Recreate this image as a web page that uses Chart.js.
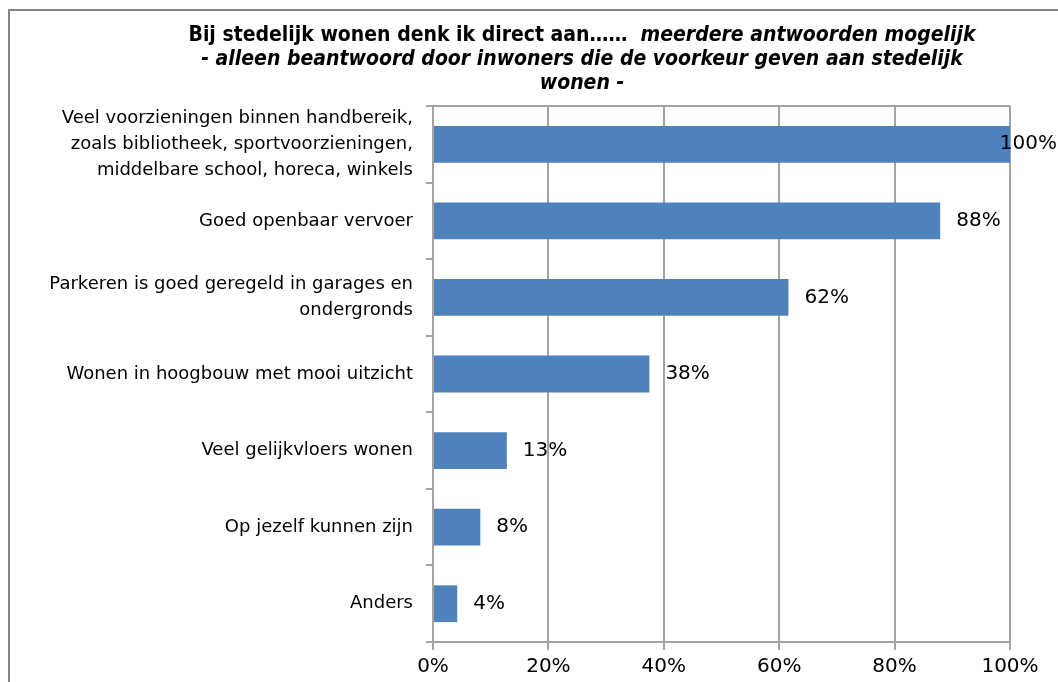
<!DOCTYPE html>
<html>
<head>
<meta charset="utf-8">
<script src="https://cdn.jsdelivr.net/npm/chart.js@4"></script>
<style>
  html, body { margin: 0; padding: 0; background: #fff; overflow: hidden; }
  #wrap { width: 1058px; height: 682px; position: relative; }
</style>
</head>
<body>
<div id="wrap"><canvas id="chart" width="1058" height="682"></canvas></div>
<script>
const categories = [
  ["Veel voorzieningen binnen handbereik,", "zoals bibliotheek, sportvoorzieningen,", "middelbare school, horeca, winkels"],
  "Goed openbaar vervoer",
  ["Parkeren is goed geregeld in garages en", "ondergronds"],
  "Wonen in hoogbouw met mooi uitzicht",
  "Veel gelijkvloers wonen",
  "Op jezelf kunnen zijn",
  "Anders"
];
const values = [100, 87.9, 61.6, 37.5, 12.8, 8.2, 4.2];
const valueLabels = ["100%", "88%", "62%", "38%", "13%", "8%", "4%"];
const xTicks = [0, 20, 40, 60, 80, 100];

const FONT = "'DejaVu Sans', Verdana, sans-serif";
const GRID = "#a3a3a3";

// titel met gemengde stijl (vet + vet cursief)
const titlePlugin = {
  id: "mixedTitle",
  beforeDraw(chart) {
    const c = chart.ctx;
    c.save();
    // rand om de grafiek
    c.strokeStyle = "#858585";
    c.lineWidth = 2;
    c.strokeRect(9, 10, 1200, 1000);

    const cx = 582;
    const lines = [
      [["bold", "Bij stedelijk wonen denk ik direct aan……  "], ["italic bold", "meerdere antwoorden mogelijk"]],
      [["italic bold", "- alleen beantwoord door inwoners die de voorkeur geven aan stedelijk"]],
      [["italic bold", "wonen -"]]
    ];
    const ys = [36, 60, 84];
    c.textBaseline = "middle";
    c.fillStyle = "#000";
    lines.forEach((parts, i) => {
      let total = 0;
      parts.forEach(p => {
        c.font = p[0] + " 21px 'DejaVu Sans Condensed', " + FONT;
        total += c.measureText(p[1]).width;
      });
      let x = cx - total / 2;
      parts.forEach(p => {
        c.font = p[0] + " 21px 'DejaVu Sans Condensed', " + FONT;
        c.textAlign = "left";
        c.fillText(p[1], x, ys[i]);
        x += c.measureText(p[1]).width;
      });
    });
    c.restore();
  },
  afterDraw(chart) {
    // bovenrand van het plotgebied
    const c = chart.ctx;
    const a = chart.chartArea;
    c.save();
    c.strokeStyle = GRID;
    c.lineWidth = 2;
    c.beginPath();
    c.moveTo(a.left, a.top);
    c.lineTo(a.right, a.top);
    c.stroke();
    c.restore();
  }
};

const valuePlugin = {
  id: "valueLabels",
  afterDatasetsDraw(chart) {
    const c = chart.ctx;
    const meta = chart.getDatasetMeta(0);
    c.save();
    c.font = "20px " + FONT;
    c.fillStyle = "#000";
    c.textBaseline = "middle";
    c.textAlign = "left";
    meta.data.forEach((bar, i) => {
      const txt = valueLabels[i];
      const w = c.measureText(txt).width;
      let x = bar.x + 16;
      if (x + w > 1057) x = 1057 - w;
      c.fillText(txt, x, bar.y);
    });
    c.restore();
  }
};

new Chart(document.getElementById("chart"), {
  type: "bar",
  data: {
    labels: categories,
    datasets: [{
      data: values,
      backgroundColor: "#4f81bd",
      borderWidth: 0,
      categoryPercentage: 1,
      barPercentage: 0.48
    }]
  },
  plugins: [titlePlugin, valuePlugin],
  options: {
    indexAxis: "y",
    responsive: false,
    animation: false,
    layout: { padding: { top: 106, right: 48, left: 0, bottom: 0 } },
    plugins: {
      legend: { display: false },
      tooltip: { enabled: false },
      title: { display: false }
    },
    scales: {
      x: {
        min: 0,
        max: 100,
        afterBuildTicks: s => { s.ticks = xTicks.map(v => ({ value: v })); },
        ticks: {
          callback: v => v + "%",
          color: "#000",
          font: { family: FONT, size: 20 },
          padding: 5,
          maxRotation: 0,
          autoSkip: false
        },
        grid: { color: GRID, lineWidth: 2, tickLength: 8 },
        border: { color: GRID, width: 2 },
        afterFit: s => { s.height = 40; s.paddingLeft = 0; s.paddingRight = 0; }
      },
      y: {
        ticks: {
          color: "#000",
          font: { family: FONT, size: 18, lineHeight: 1.45 },
          padding: 13,
          autoSkip: false
        },
        grid: { drawOnChartArea: false, color: GRID, lineWidth: 2, tickLength: 7, offset: true },
        border: { color: GRID, width: 2 },
        afterFit: s => { s.width = 433; s.paddingTop = 0; s.paddingBottom = 0; }
      }
    }
  }
});
</script>
</body>
</html>
